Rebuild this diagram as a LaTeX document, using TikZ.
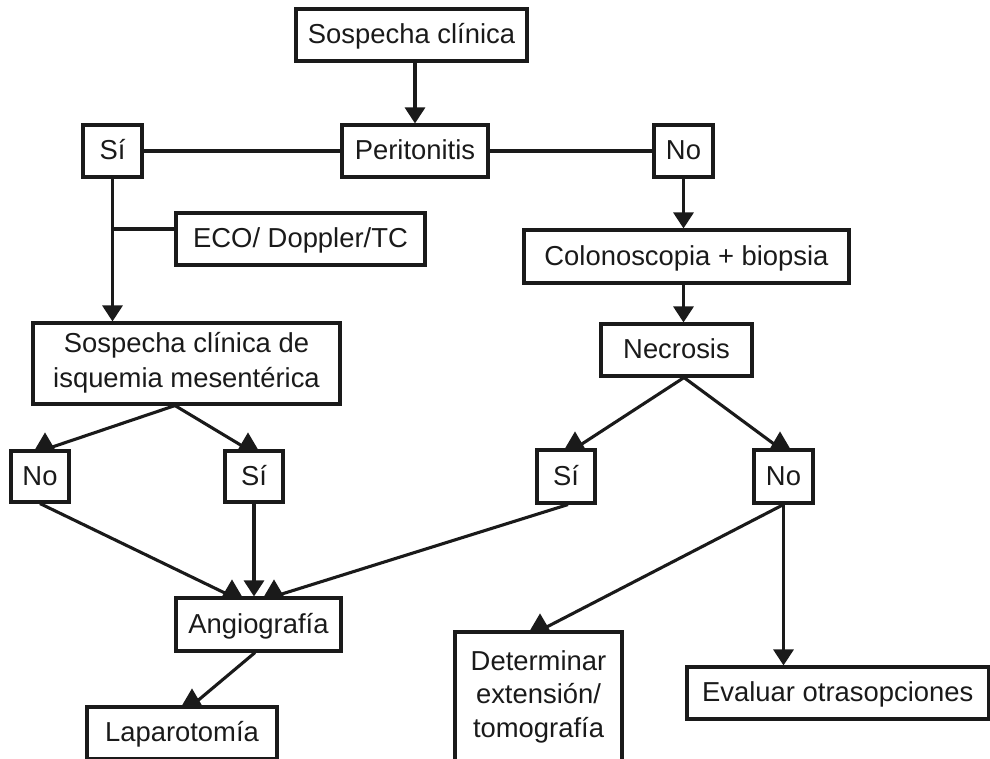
\documentclass[tikz,border=0pt]{standalone}
\usepackage{fontspec}
\setmainfont{Liberation Sans}
\usetikzlibrary{arrows.meta}
\definecolor{ink}{HTML}{1A1A1A}
\tikzset{
  box/.style={draw=ink, line width=3.1pt, inner sep=0pt, text=ink,
    font=\fontsize{27.4}{33}\selectfont},
  one/.style={box, text height=21pt, text depth=4pt},
  conn/.style={draw=ink, line width=3.1pt},
  arr/.style={conn, -{Triangle[width=20pt,length=16pt]}},
  uptri/.pic={\fill[ink] (-10,0) -- (10,0) -- (0,17) -- cycle;}
}
\begin{document}
\begin{tikzpicture}[x=1pt,y=1pt]
\useasboundingbox (0,0) rectangle (990,-758);
\clip (0,0) rectangle (990,-758);

% nodes
\node[one, minimum width=231pt, minimum height=52pt] (sc) at (411.5,-35) {Sospecha clínica};
\node[one, minimum width=146pt, minimum height=52pt] (per) at (415,-151) {Peritonitis};
\node[one, minimum width=59pt, minimum height=52pt] (si1) at (112.5,-151) {Sí};
\node[one, minimum width=59pt, minimum height=52pt] (no1) at (683.5,-151) {No};
\node[one, minimum width=249pt, minimum height=52pt] (eco) at (300.5,-239) {ECO/ Doppler/TC};
\node[one, minimum width=325pt, minimum height=53pt] (col) at (686.5,-256.5) {Colonoscopia + biopsia};
\node[box, align=center, font=\fontsize{27.4}{35}\selectfont, minimum width=307pt, minimum height=81pt] (isq) at (186.5,-363.5)
  {\rule{0pt}{26pt}Sospecha clínica de\\isquemia mesentérica\rule[-14pt]{0pt}{14pt}};
\node[one, minimum width=151pt, minimum height=52pt] (nec) at (676.5,-350) {Necrosis};
\node[one, minimum width=58pt, minimum height=51pt] (no2) at (40,-476.5) {No};
\node[one, minimum width=58pt, minimum height=51pt] (si2) at (254,-476.5) {Sí};
\node[one, minimum width=58pt, minimum height=53pt] (si3) at (566,-476.5) {Sí};
\node[one, minimum width=59pt, minimum height=53pt] (no3) at (783.5,-476.5) {No};
\node[one, minimum width=165pt, minimum height=53pt] (ang) at (258.5,-624.5) {Angiografía};
\node[one, minimum width=190pt, minimum height=52pt] (lap) at (182,-733) {Laparotomía};
\node[box, align=center, font=\fontsize{27.4}{33.5}\selectfont, minimum width=167pt, minimum height=130pt] (det) at (538.5,-697)
  {\rule{0pt}{26pt}Determinar\\extensión/\\tomografía\rule[-13pt]{0pt}{13pt}};
\node[one, minimum width=301.5pt, minimum height=52pt] (eva) at (837.75,-693) {Evaluar otrasopciones};

% helper coordinates
\coordinate (ecoin) at ([yshift=10pt]eco.west);
\coordinate (isqout) at ([xshift=-11.5pt]isq.south);
\coordinate (no2in) at ([xshift=5pt]no2.north);
\coordinate (si2in) at ([xshift=-6pt]si2.north);
\coordinate (necout) at ([xshift=7.5pt]nec.south);
\coordinate (si3in) at ([xshift=9pt]si3.north);
\coordinate (no3in) at ([xshift=-3.5pt]no3.north);
\coordinate (angin1) at ([xshift=-26.5pt]ang.north);
\coordinate (angin3) at ([xshift=15.5pt]ang.north);
\coordinate (si3out) at ([xshift=2pt]si3.south);
\coordinate (detin) at ([xshift=1.5pt]det.north);
\coordinate (angout) at ([xshift=-3.5pt]ang.south);
\coordinate (lapin) at ([xshift=10pt]lap.north);

% connectors
\draw[arr] (per.north |- sc.south) -- (per.north);
\draw[conn] (si1.east) -- (per.west);
\draw[conn] (per.east) -- (no1.west);
\draw[arr] (si1.south) -- (si1.south |- isq.north);
\draw[conn] (si1.south |- ecoin) -- (ecoin);
\draw[arr] (no1.south) -- (no1.south |- col.north);
\draw[arr] (no1.south |- col.south) -- (no1.south |- nec.north);

\draw[conn] (isqout) -- (no2in);
\pic at (no2in) {uptri};
\draw[conn] (isqout) -- (si2in);
\pic at (si2in) {uptri};

\draw[conn] (necout) -- (si3in);
\pic at (si3in) {uptri};
\draw[conn] (necout) -- (no3in);
\pic at (no3in) {uptri};

\draw[conn] (no2.south) -- (angin1);
\pic at (angin1) {uptri};
\draw[arr] (si2.south) -- (si2.south |- ang.north);
\draw[conn] (si3out) -- (angin3);
\pic at (angin3) {uptri};

\draw[conn] (no3.south) -- (detin);
\pic at (detin) {uptri};
\draw[arr] (no3.south) -- (no3.south |- eva.north);

\draw[conn] (angout) -- (lapin);
\pic at (lapin) {uptri};
\end{tikzpicture}
\end{document}
